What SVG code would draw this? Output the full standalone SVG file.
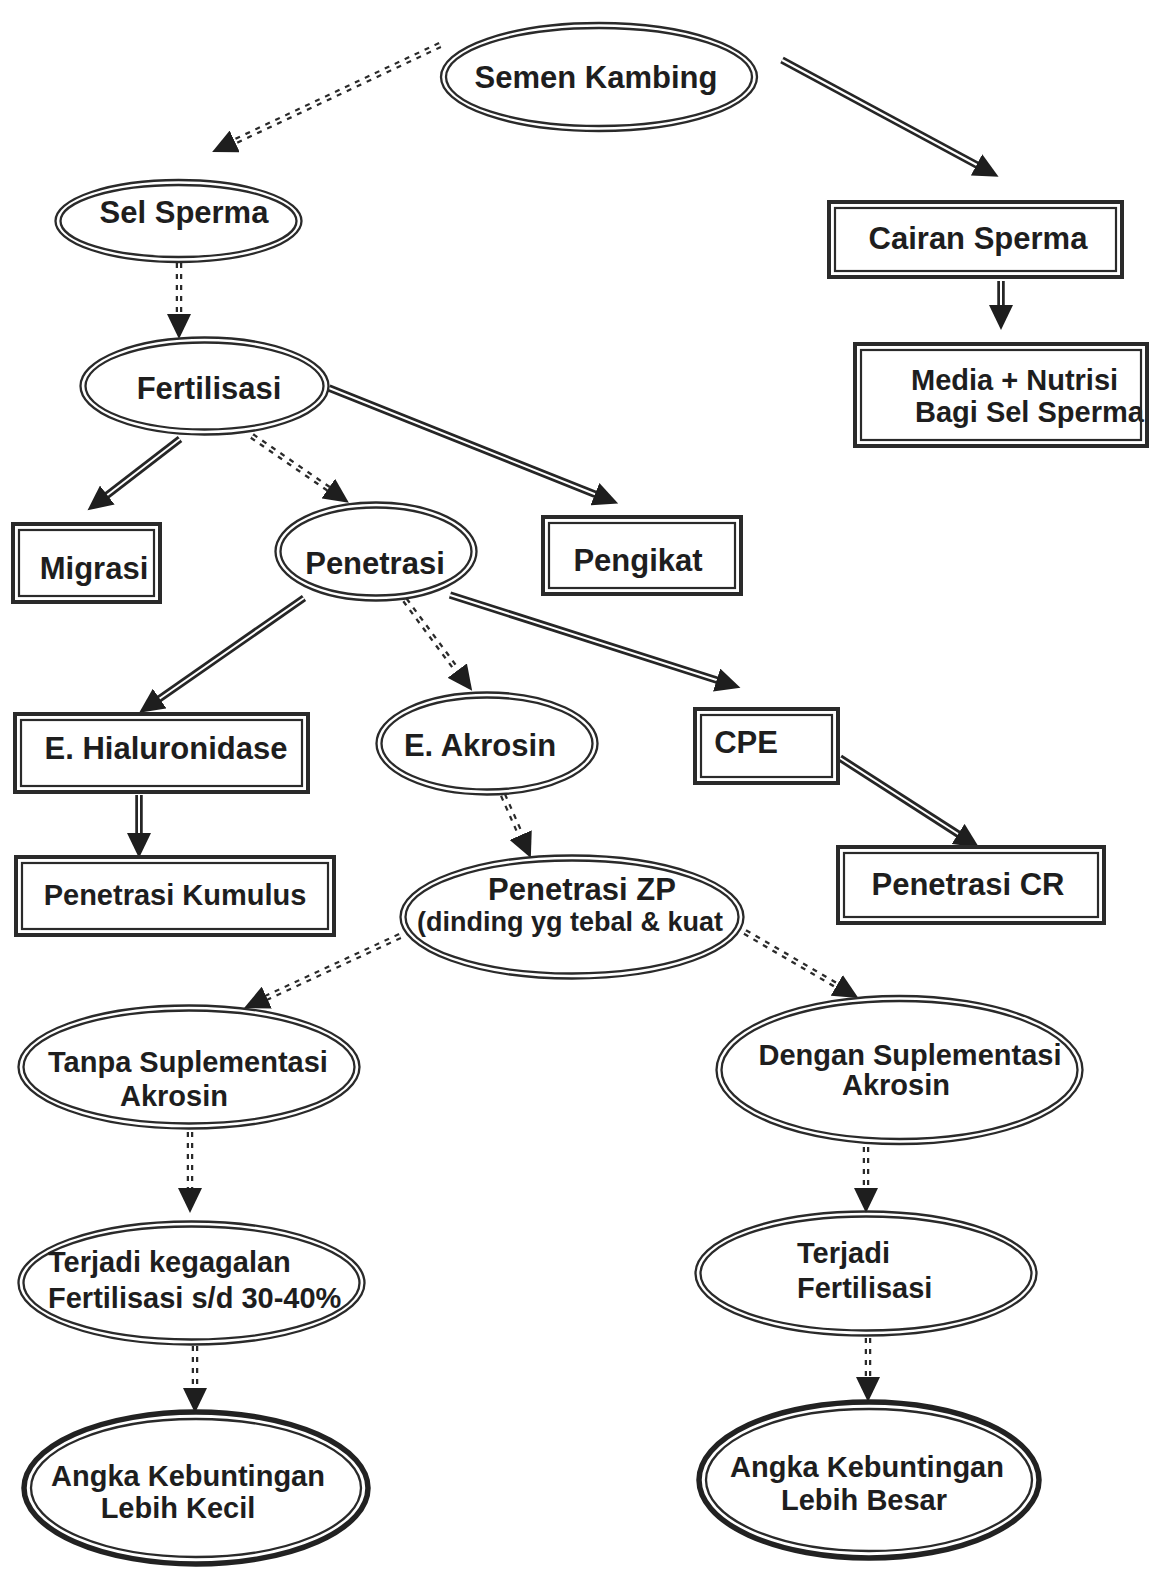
<svg xmlns="http://www.w3.org/2000/svg" width="1153" height="1569" viewBox="0 0 1153 1569">
<style>
text{font-family:"Liberation Sans",Arial,sans-serif;font-weight:bold;fill:#1e1e1e;}
.t31{font-size:31px;}
.t29{font-size:29px;}
.t27{font-size:27px;}
.c{text-anchor:middle;}
.e1,.e2{fill:none;stroke:#2a2a2a;stroke-width:2.3;}
.b1{fill:none;stroke:#222;stroke-width:5.5;}
.r1{fill:none;stroke:#2a2a2a;stroke-width:4;}
.r2{fill:none;stroke:#2a2a2a;stroke-width:2.2;}
.sd{fill:none;stroke:#262626;stroke-width:7.5;}
.dd{fill:none;stroke:#2a2a2a;stroke-width:6.5;stroke-dasharray:5 6;}
.w{fill:none;stroke:#fff;stroke-width:2;marker-end:url(#ah);}
</style>
<defs>
<marker id="ah" markerUnits="userSpaceOnUse" markerWidth="26" markerHeight="24" viewBox="0 0 26 24" refX="13" refY="12" orient="auto">
<path d="M0,0 L25,12 L0,24 z" fill="#1e1e1e"/>
</marker>
</defs>
<rect width="1153" height="1569" fill="#fff"/>

<g id="connectors">
<g id="c1"><path class="dd" d="M440,45 L223,147"/><path class="w" d="M440,45 L223,147"/></g>
<g id="c2"><path class="sd" d="M782,60 L988,171"/><path class="w" d="M782,60 L988,171"/></g>
<g id="c3"><path class="dd" d="M179,263 L179,327"/><path class="w" d="M179,263 L179,327"/></g>
<g id="c4"><path class="sd" d="M1001,281 L1001,318"/><path class="w" d="M1001,281 L1001,318"/></g>
<g id="c5"><path class="sd" d="M180,439 L97,503"/><path class="w" d="M180,439 L97,503"/></g>
<g id="c6"><path class="dd" d="M252,436 L339,496"/><path class="w" d="M252,436 L339,496"/></g>
<g id="c7"><path class="sd" d="M329,388 L607,499"/><path class="w" d="M329,388 L607,499"/></g>
<g id="c8"><path class="sd" d="M304,598 L149,706"/><path class="w" d="M304,598 L149,706"/></g>
<g id="c9"><path class="dd" d="M405,600 L465,681"/><path class="w" d="M405,600 L465,681"/></g>
<g id="c10"><path class="sd" d="M450,595 L729,684"/><path class="w" d="M450,595 L729,684"/></g>
<g id="c11"><path class="sd" d="M139,795 L139,846"/><path class="w" d="M139,795 L139,846"/></g>
<g id="c12"><path class="dd" d="M503,795 L526,847"/><path class="w" d="M503,795 L526,847"/></g>
<g id="c13"><path class="sd" d="M840,758 L969,841"/><path class="w" d="M840,758 L969,841"/></g>
<g id="c14"><path class="dd" d="M400,936 L255,1003"/><path class="w" d="M400,936 L255,1003"/></g>
<g id="c15"><path class="dd" d="M745,932 L848,992"/><path class="w" d="M745,932 L848,992"/></g>
<g id="c16"><path class="dd" d="M190,1132 L190,1201"/><path class="w" d="M190,1132 L190,1201"/></g>
<g id="c17"><path class="dd" d="M195,1346 L195,1401"/><path class="w" d="M195,1346 L195,1401"/></g>
<g id="c18"><path class="dd" d="M866,1147 L866,1201"/><path class="w" d="M866,1147 L866,1201"/></g>
<g id="c19"><path class="dd" d="M868,1338 L868,1390"/><path class="w" d="M868,1338 L868,1390"/></g>
</g>

<g id="semen-kambing">
<ellipse class="e1" cx="599" cy="77" rx="158" ry="54"/>
<ellipse class="e2" cx="599" cy="77" rx="153" ry="49"/>
<text class="t31 c" x="596" y="88">Semen Kambing</text>
</g>
<g id="sel-sperma">
<ellipse class="e1" cx="178.5" cy="221" rx="123" ry="41"/>
<ellipse class="e2" cx="178.5" cy="221" rx="118" ry="36"/>
<text class="t31 c" x="184" y="223">Sel Sperma</text>
</g>
<g id="cairan-sperma">
<rect class="r1" x="829" y="202" width="293" height="75"/>
<rect class="r2" x="835" y="208" width="281" height="63"/>
<text class="t31 c" x="978" y="249">Cairan Sperma</text>
</g>
<g id="media-nutrisi">
<text class="t29" x="911" y="390">Media + Nutrisi</text>
<text class="t29" x="915" y="422">Bagi Sel Sperma</text>
<rect class="r1" x="855" y="344" width="292" height="102"/>
<rect class="r2" x="861" y="350" width="280" height="90"/>
</g>
<g id="fertilisasi">
<ellipse class="e1" cx="204.5" cy="386" rx="124" ry="48.5"/>
<ellipse class="e2" cx="204.5" cy="386" rx="119" ry="43.5"/>
<text class="t31 c" x="209" y="399">Fertilisasi</text>
</g>
<g id="migrasi">
<rect class="r1" x="13" y="524" width="147" height="78"/>
<rect class="r2" x="19" y="530" width="135" height="66"/>
<text class="t31 c" x="94" y="579">Migrasi</text>
</g>
<g id="penetrasi">
<ellipse class="e1" cx="376" cy="551.5" rx="100.5" ry="49"/>
<ellipse class="e2" cx="376" cy="551.5" rx="95.5" ry="44"/>
<text class="t31 c" x="375" y="574">Penetrasi</text>
</g>
<g id="pengikat">
<rect class="r1" x="543" y="517" width="198" height="77"/>
<rect class="r2" x="549" y="523" width="186" height="65"/>
<text class="t31 c" x="638" y="571">Pengikat</text>
</g>
<g id="e-hialuronidase">
<rect class="r1" x="15" y="714" width="293" height="78"/>
<rect class="r2" x="21" y="720" width="281" height="66"/>
<text class="t31 c" x="166" y="759">E. Hialuronidase</text>
</g>
<g id="e-akrosin">
<ellipse class="e1" cx="487" cy="743.5" rx="110.5" ry="51"/>
<ellipse class="e2" cx="487" cy="743.5" rx="105.5" ry="46"/>
<text class="t31 c" x="480" y="756">E. Akrosin</text>
</g>
<g id="cpe">
<rect class="r1" x="695" y="709" width="143" height="74"/>
<rect class="r2" x="701" y="715" width="131" height="62"/>
<text class="t31 c" x="746" y="753">CPE</text>
</g>
<g id="penetrasi-kumulus">
<rect class="r1" x="16" y="857" width="318" height="78"/>
<rect class="r2" x="22" y="863" width="306" height="66"/>
<text class="t29 c" x="175" y="905">Penetrasi Kumulus</text>
</g>
<g id="penetrasi-cr">
<rect class="r1" x="838" y="847" width="266" height="76"/>
<rect class="r2" x="844" y="853" width="254" height="64"/>
<text class="t31 c" x="968" y="895">Penetrasi CR</text>
</g>
<g id="penetrasi-zp">
<ellipse class="e1" cx="572" cy="917" rx="171.5" ry="61.5"/>
<ellipse class="e2" cx="572" cy="917" rx="166.5" ry="56.5"/>
<text class="t31 c" x="582" y="900">Penetrasi ZP</text>
<text class="t27 c" x="570" y="931">(dinding yg tebal &amp; kuat</text>
</g>
<g id="tanpa-suplementasi">
<ellipse class="e1" cx="189" cy="1067" rx="170.5" ry="61.5"/>
<ellipse class="e2" cx="189" cy="1067" rx="165.5" ry="56.5"/>
<text class="t29 c" x="188" y="1072">Tanpa Suplementasi</text>
<text class="t29 c" x="174" y="1106">Akrosin</text>
</g>
<g id="dengan-suplementasi">
<ellipse class="e1" cx="899.5" cy="1070" rx="183" ry="74"/>
<ellipse class="e2" cx="899.5" cy="1070" rx="178" ry="69"/>
<text class="t29 c" x="910" y="1065">Dengan Suplementasi</text>
<text class="t29 c" x="896" y="1095">Akrosin</text>
</g>
<g id="terjadi-kegagalan">
<ellipse class="e1" cx="191.5" cy="1283" rx="173" ry="61.5"/>
<ellipse class="e2" cx="191.5" cy="1283" rx="168" ry="56.5"/>
<text class="t29" x="48" y="1272">Terjadi kegagalan</text>
<text class="t29" x="48" y="1308">Fertilisasi s/d 30-40%</text>
</g>
<g id="terjadi-fertilisasi">
<ellipse class="e1" cx="866" cy="1273.5" rx="170.5" ry="62"/>
<ellipse class="e2" cx="866" cy="1273.5" rx="165.5" ry="57"/>
<text class="t29" x="797" y="1263">Terjadi</text>
<text class="t29" x="797" y="1298">Fertilisasi</text>
</g>
<g id="angka-kecil">
<ellipse class="b1" cx="196" cy="1488" rx="172" ry="76"/>
<ellipse class="e2" cx="196" cy="1488" rx="165" ry="69"/>
<text class="t29 c" x="188" y="1486">Angka Kebuntingan</text>
<text class="t29 c" x="178" y="1518">Lebih Kecil</text>
</g>
<g id="angka-besar">
<ellipse class="b1" cx="869" cy="1480" rx="170" ry="78"/>
<ellipse class="e2" cx="869" cy="1480" rx="163" ry="71"/>
<text class="t29 c" x="867" y="1477">Angka Kebuntingan</text>
<text class="t29 c" x="864" y="1510">Lebih Besar</text>
</g>
</svg>
